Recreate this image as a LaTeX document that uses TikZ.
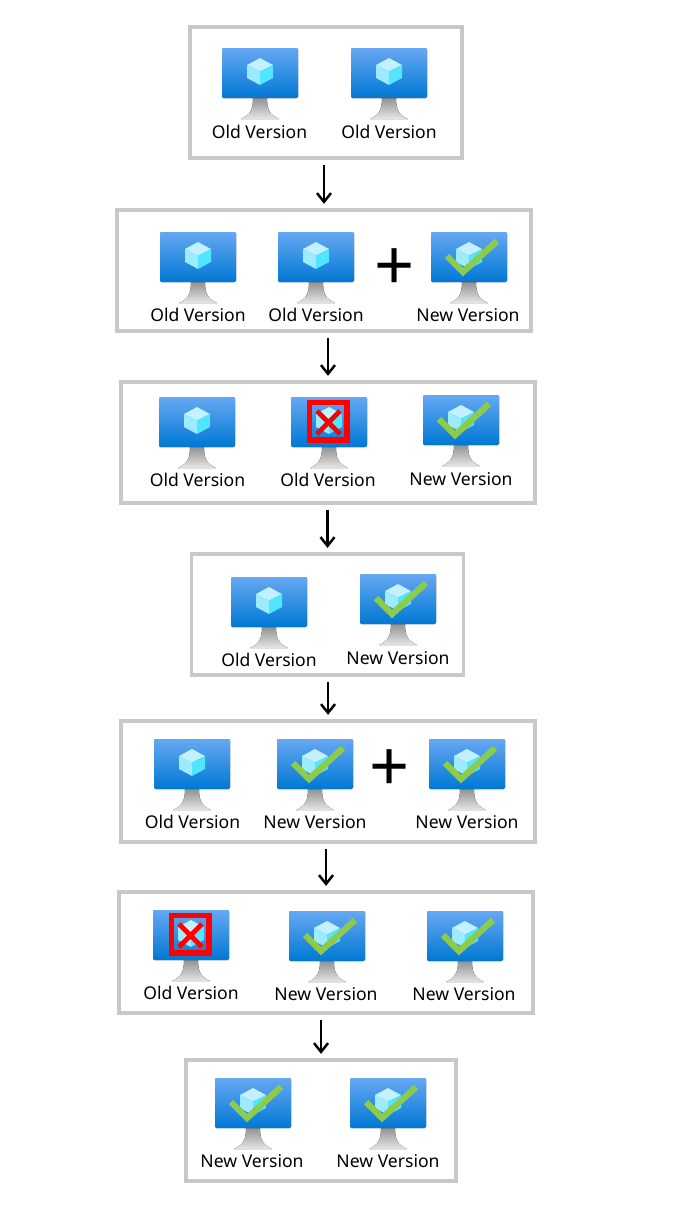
\documentclass[tikz,border=0pt]{standalone}
\usepackage{fontspec}
\setmainfont{Noto Sans}
\usetikzlibrary{arrows.meta}
\definecolor{screentop}{HTML}{66A8F2}
\definecolor{screenbot}{HTML}{0078D4}
\definecolor{cubetop}{HTML}{C3F1FF}
\definecolor{cubeleft}{HTML}{9CEBFF}
\definecolor{cuberight}{HTML}{50E6FF}
\definecolor{tickgreen}{HTML}{8CCB4E}
\definecolor{framegray}{HTML}{C8C8C8}
\tikzset{
  vmbase/.pic={
    \fill[top color=gray!85, bottom color=gray!20] (31,50) -- (45,50) .. controls (45,62) and (48,67) .. (57,71) -- (19,71) .. controls (28,67) and (31,62) .. (31,50) -- cycle;
    \fill[rounded corners=0.8pt, top color=screentop, bottom color=screenbot] (0,0) rectangle (76,50);
    \fill[cubetop] (38,10) -- (51,17) -- (38,23.5) -- (25,17) -- cycle;
    \fill[cubeleft] (25,17) -- (38,23.5) -- (38,37) -- (25,30) -- cycle;
    \fill[cuberight] (51,17) -- (38,23.5) -- (38,37) -- (51,30) -- cycle;
  },
  vmold/.pic={\pic {vmbase};},
  vmnew/.pic={
    \pic {vmbase};
    \draw[tickgreen, line width=3.6pt] (16,24) -- (32,40) -- (66,9);
  },
  vmgone/.pic={
    \pic {vmbase};
    \draw[red, line width=2.9pt] (18.5,5.5) rectangle (56,43);
    \draw[red, line width=2.8pt] (26,14) -- (49,37) (49,14) -- (26,37);
  },
}
\begin{document}
\begin{tikzpicture}[x=0.02cm, y=-0.02cm]
  % Define styles
  \tikzstyle{stagebox} = [rectangle, draw=framegray, line width=2pt, minimum height=2.42cm]
  \tikzstyle{wide} = [stagebox, minimum width=8.28cm]
  \tikzstyle{narrow} = [stagebox, minimum width=5.44cm]
  \tikzstyle{vmlabel} = [font=\fontsize{10}{12}\selectfont, inner sep=0pt, text=black]
  \tikzstyle{plus} = [font=\bfseries\fontsize{40}{40}\selectfont, inner sep=0pt]
  \tikzstyle{arrow} = [line width=1.4pt, -{Straight Barb[length=5pt, width=8pt]}, shorten <=3pt, shorten >=2.5pt]

  \useasboundingbox (0,0) rectangle (683,1221);

  % Stage frames
  \node (boxA) [narrow, minimum height=2.62cm] at (326,92.5) {};
  \node (boxB) [wide] at (324,270.5) {};
  \node (boxC) [wide] at (328,442.5) {};
  \node (boxD) [narrow] at (327.5,614.5) {};
  \node (boxE) [wide] at (328,781.5) {};
  \node (boxF) [wide] at (326,952.5) {};
  \node (boxG) [narrow, minimum width=5.4cm] at (321,1120.5) {};

  % First stage
  \pic at (222,48) {vmold};
  \pic at (351,48) {vmold};
  \node (labA1) [vmlabel] at (259.5,132) {Old Version};
  \node (labA2) [vmlabel] at (389,132) {Old Version};

  % Second stage
  \pic at (160,232) {vmold};
  \pic at (278,232) {vmold};
  \pic at (431,232) {vmnew};
  \node (labB1) [vmlabel] at (198,315) {Old Version};
  \node (labB2) [vmlabel] at (316,315) {Old Version};
  \node (labB3) [vmlabel] at (468,315) {New Version};
  \node (plusB) [plus] at (395,270) {+};

  % Third stage
  \pic at (159,397) {vmold};
  \pic at (291,397) {vmgone};
  \pic at (423,395) {vmnew};
  \node (labC1) [vmlabel] at (197.5,480) {Old Version};
  \node (labC2) [vmlabel] at (328,480) {Old Version};
  \node (labC3) [vmlabel] at (461,479) {New Version};

  % Fourth stage
  \pic at (231,577) {vmold};
  \pic at (360,574) {vmnew};
  \node (labD1) [vmlabel] at (269,660) {Old Version};
  \node (labD2) [vmlabel] at (398,658) {New Version};

  % Fifth stage
  \pic at (154,739) {vmold};
  \pic at (277,739) {vmnew};
  \pic at (429,739) {vmnew};
  \node (labE1) [vmlabel] at (192.5,822) {Old Version};
  \node (labE2) [vmlabel] at (315,822) {New Version};
  \node (labE3) [vmlabel] at (467,822) {New Version};
  \node (plusE) [plus] at (390,771) {+};

  % Sixth stage
  \pic at (153,910) {vmgone};
  \pic at (289,911) {vmnew};
  \pic at (427,911) {vmnew};
  \node (labF1) [vmlabel] at (191,993) {Old Version};
  \node (labF2) [vmlabel] at (326,994) {New Version};
  \node (labF3) [vmlabel] at (464,994) {New Version};

  % Last stage
  \pic at (215,1078) {vmnew};
  \pic at (350,1078) {vmnew};
  \node (labG1) [vmlabel] at (252,1161) {New Version};
  \node (labG2) [vmlabel] at (388,1161) {New Version};

  % Arrows - each one runs down to the middle of the next frame
  \draw [arrow] (boxB.north |- boxA.south) -- (boxB.north);
  \draw [arrow] (boxC.north |- boxB.south) -- (boxC.north);
  \draw [arrow] (boxD.north |- boxC.south) -- (boxD.north);
  \draw [arrow] (boxE.north |- boxD.south) -- (boxE.north);
  \draw [arrow] (boxF.north |- boxE.south) -- (boxF.north);
  \draw [arrow] (boxG.north |- boxF.south) -- (boxG.north);
\end{tikzpicture}
\end{document}
